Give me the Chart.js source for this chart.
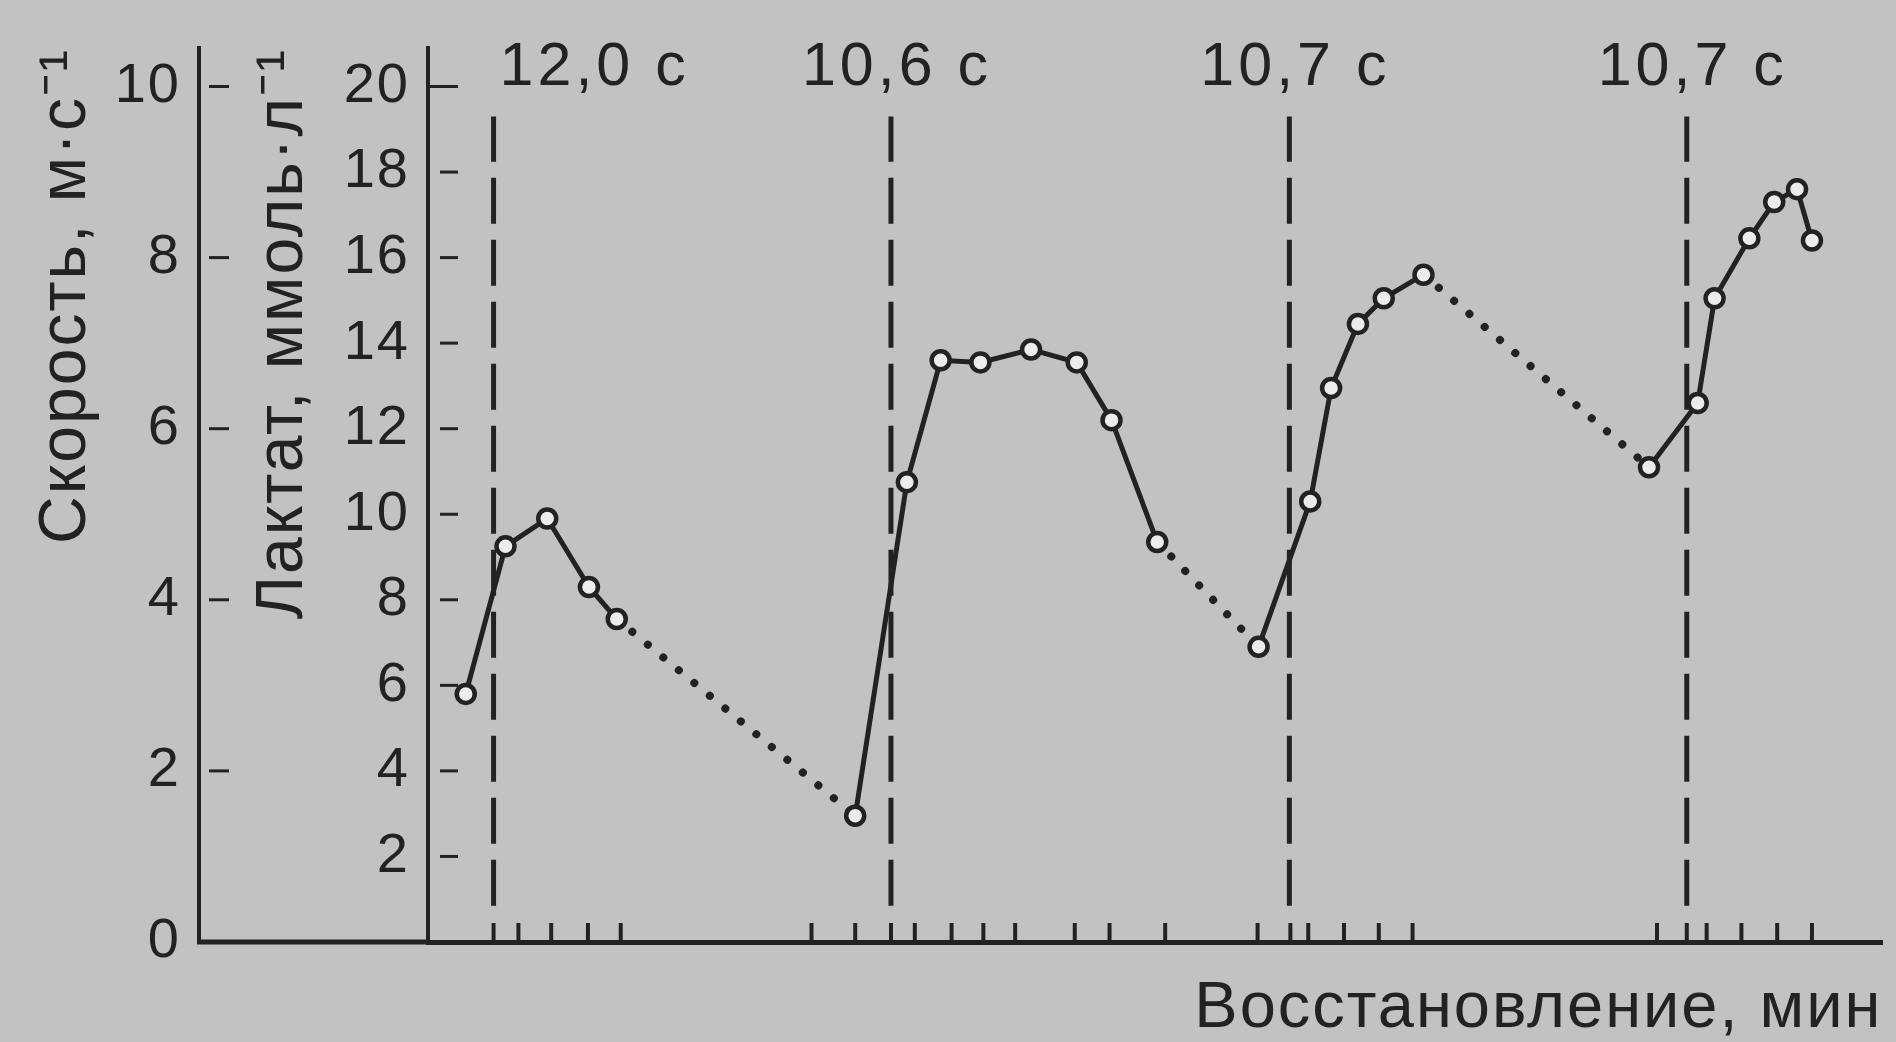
<!DOCTYPE html>
<html lang="ru">
<head>
    <meta charset="UTF-8">
    <title>Лактат при повторных спринтах</title>
    <script src="https://cdn.jsdelivr.net/npm/chart.js"></script>
    <style>
        html, body {
            margin: 0;
            padding: 0;
            background-color: #c2c2c2;
        }
        canvas {
            display: block;
        }
    </style>
</head>
<body>

<canvas id="sprintChart" width="1896" height="1042"></canvas>

<script>
    // Recovery time (units, sprints 20 units apart) and blood lactate, mmol/l
    const recoveryTime = [8.6, 10.6, 12.7, 14.8, 16.2,
                          28.2, 30.8, 32.5, 34.5, 37.05, 39.35, 41.1, 43.4,
                          48.5, 51.1, 52.15, 53.5, 54.8, 56.8,
                          68.15, 70.6, 71.45, 73.2, 74.45, 75.6, 76.35];
    const lactate = [5.8, 9.25, 9.9, 8.3, 7.55,
                     2.95, 10.75, 13.6, 13.55, 13.85, 13.55, 12.2, 9.35,
                     6.9, 10.3, 12.95, 14.45, 15.05, 15.6,
                     11.1, 12.6, 15.05, 16.45, 17.3, 17.6, 16.4];
    // last point of each bout: the dotted line starts there
    const boutEnds = [4, 12, 18];

    // the sprints and their times
    const sprintTimes = [10, 30, 50.05, 70.05];
    const sprintLabels = ['12,0 с', '10,6 с', '10,7 с', '10,7 с'];

    // tick marks on the time axis (no numbers in the original)
    const timeTicks = [10, 11.25, 12.9, 14.75, 16.4,
                       26, 28.2, 30, 31.2, 33.05, 34.65, 36.25, 39.25, 41, 43.8,
                       48.45, 50.1, 51, 52.8, 54.55, 56.25,
                       68.55, 70.05, 71.05, 72.8, 74.6, 76.35];
    const speedTicks = [0, 2, 4, 6, 8, 10];
    const lactateTicks = [2, 4, 6, 8, 10, 12, 14, 16, 18, 20];

    const INK = '#222222';
    const FONT = '"Liberation Sans", Arial, sans-serif';
    const DASH_FROM = 0.85;
    const DASH_TO = 19.3;

    const isGap = ctx => boutEnds.includes(ctx.p0DataIndex);

    // y scales: keep the plot top where the layout puts it (no extra room for labels)
    const noLabelRoom = s => { s.paddingTop = 0; s.paddingBottom = 0; };

    // things Chart.js does not draw the book's way: inward ticks, sprint labels
    const bookFigure = {
        id: 'bookFigure',
        beforeDraw(chart) {
            // the scanned lettering is a bit loosely spaced
            chart.ctx.letterSpacing = '2px';
        },
        afterDraw(chart) {
            const { ctx, chartArea, scales } = chart;
            const x = scales.x, speed = scales.speed, lac = scales.lactate;
            const base = lac.getPixelForValue(0);
            ctx.save();
            ctx.strokeStyle = INK;
            ctx.lineCap = 'butt';

            // baseline continues under the speed axis block
            ctx.lineWidth = 5;
            ctx.beginPath();
            ctx.moveTo(speed.right - 2, base);
            ctx.lineTo(chartArea.left, base);
            ctx.stroke();

            // time ticks point up
            ctx.lineWidth = 4;
            timeTicks.forEach(t => {
                const px = x.getPixelForValue(t);
                ctx.beginPath();
                ctx.moveTo(px, base);
                ctx.lineTo(px, base - 19);
                ctx.stroke();
            });

            // y ticks point inwards
            ctx.lineWidth = 3;
            speedTicks.filter(v => v > 0).forEach(v => {
                const py = speed.getPixelForValue(v);
                ctx.beginPath();
                ctx.moveTo(speed.right + 10, py);
                ctx.lineTo(speed.right + 30, py);
                ctx.stroke();
            });
            lactateTicks.forEach(v => {
                const py = lac.getPixelForValue(v);
                ctx.beginPath();
                ctx.moveTo(lac.right + (v === 20 ? 2 : 12), py);
                ctx.lineTo(lac.right + 30, py);
                ctx.stroke();
            });

            // sprint times above the dashed lines
            ctx.fillStyle = INK;
            ctx.font = '61px ' + FONT;
            ctx.letterSpacing = '4px';
            ctx.textBaseline = 'alphabetic';
            sprintTimes.forEach((t, i) => {
                const px = x.getPixelForValue(t);
                ctx.textAlign = i === 0 ? 'left' : 'center';
                ctx.fillText(sprintLabels[i], px + 6, lac.getPixelForValue(20) - 1);
            });
            ctx.restore();
            ctx.letterSpacing = '0px';
        }
    };

    const ctx = document.getElementById('sprintChart').getContext('2d');
    new Chart(ctx, {
        type: 'line',
        data: {
            datasets: [
                {
                    data: recoveryTime.map((t, i) => ({ x: t, y: lactate[i] })),
                    xAxisID: 'x',
                    yAxisID: 'lactate',
                    borderColor: INK,
                    borderWidth: 5,
                    tension: 0,
                    pointRadius: 9,
                    pointBorderWidth: 4.5,
                    pointBorderColor: INK,
                    pointBackgroundColor: '#ececec',
                    order: 0,
                    segment: {
                        borderDash: c => isGap(c) ? [0.1, 20] : undefined,
                        borderWidth: c => isGap(c) ? 8 : undefined,
                        borderCapStyle: c => isGap(c) ? 'round' : undefined
                    }
                },
                ...sprintTimes.map(t => ({
                    data: [{ x: t, y: DASH_FROM }, { x: t, y: DASH_TO }],
                    xAxisID: 'x',
                    yAxisID: 'lactate',
                    borderColor: INK,
                    borderWidth: 5,
                    borderDash: [46, 16],
                    pointRadius: 0,
                    order: 1
                }))
            ]
        },
        options: {
            responsive: false,
            animation: false,
            devicePixelRatio: 1,
            layout: { padding: { left: 0, right: 4, top: 48, bottom: 0 } },
            plugins: {
                legend: { display: false },
                tooltip: { enabled: false }
            },
            scales: {
                x: {
                    type: 'linear',
                    position: 'bottom',
                    min: 6.7,
                    max: 79.9,
                    grid: { display: false, drawTicks: false },
                    border: { display: true, color: INK, width: 5 },
                    ticks: { display: false },
                    title: {
                        display: true,
                        text: 'Восстановление, мин',
                        align: 'end',
                        color: INK,
                        font: { family: FONT, size: 65, lineHeight: 1 },
                        padding: { top: 0, bottom: 0 }
                    },
                    afterFit: s => { s.height = 100; }
                },
                speed: {
                    type: 'linear',
                    position: 'left',
                    weight: 10,
                    min: 0,
                    max: 10.45,
                    afterBuildTicks: s => { s.ticks = speedTicks.map(v => ({ value: v })); },
                    grid: { display: false, drawTicks: false },
                    border: { display: true, color: INK, width: 4 },
                    ticks: { color: INK, font: { family: FONT, size: 56 }, padding: 18 },
                    title: {
                        display: true,
                        text: 'Скорость, м·с⁻¹',
                        align: 'end',
                        color: INK,
                        font: { family: FONT, size: 66, lineHeight: 1 },
                        padding: { top: 34, bottom: 0 }
                    },
                    afterFit: s => { s.width = 199; noLabelRoom(s); }
                },
                lactate: {
                    type: 'linear',
                    position: 'left',
                    weight: 0,
                    min: 0,
                    max: 20.9,
                    afterBuildTicks: s => { s.ticks = lactateTicks.map(v => ({ value: v })); },
                    grid: { display: false, drawTicks: false },
                    border: { display: true, color: INK, width: 4 },
                    ticks: { color: INK, font: { family: FONT, size: 56 }, padding: 18 },
                    title: {
                        display: true,
                        text: 'Лактат, ммоль·л⁻¹',
                        align: 'end',
                        color: INK,
                        font: { family: FONT, size: 66, lineHeight: 1 },
                        padding: { top: 52, bottom: 0 }
                    },
                    afterFit: s => { s.width = 229; noLabelRoom(s); }
                }
            }
        },
        plugins: [bookFigure]
    });
</script>

</body>
</html>
